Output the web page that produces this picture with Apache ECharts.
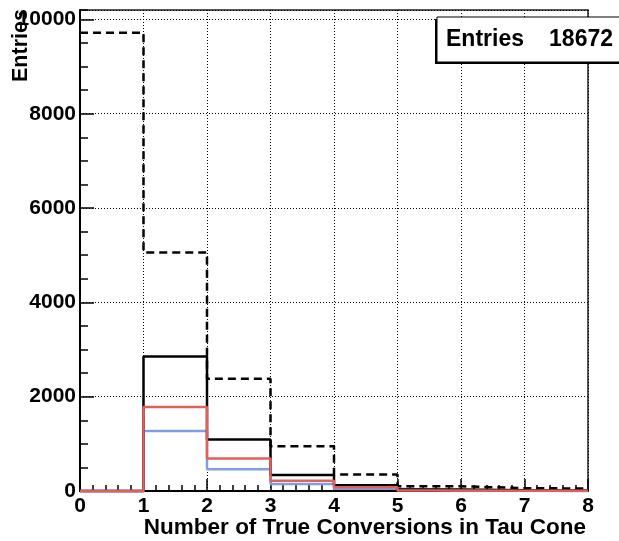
<!DOCTYPE html>
<html>
<head>
<meta charset="utf-8">
<title>Number of True Conversions in Tau Cone</title>
<script src="https://cdn.jsdelivr.net/npm/echarts@6/dist/echarts.min.js"></script>
<style>
  html, body { margin: 0; padding: 0; background: #fff; }
  #chart { width: 619px; height: 541px; }
</style>
</head>
<body>
<div id="chart"></div>
<script>
// Bin edges (lower edge of each unit-wide bin) and contents per histogram
const binEdges = [0, 1, 2, 3, 4, 5, 6, 7];
const xMax = 8;
const allTaus = [9720, 5060, 2380, 950, 350, 100, 60, 52];
const selected = [0, 2850, 1090, 340, 120, 30, 15, 10];
const redHist = [0, 1780, 690, 220, 80, 10, 5, 3];
const blueHist = [0, 1270, 460, 150, 50, 8, 4, 2];
const entries = 18672;
const yTickLabels = ['0', '2000', '4000', '6000', '8000', '10000'];

const FONT = '"Liberation Sans", Arial, Helvetica, sans-serif';

// Turn bin contents into step-line points: one point per lower edge plus the last upper edge
function stepPoints(values) {
  const pts = binEdges.map((e, i) => [e, values[i]]);
  pts.push([xMax, values[values.length - 1]]);
  return pts;
}

function histSeries(name, values, color, width, type, z) {
  return {
    name: name,
    type: 'line',
    step: 'end',
    data: stepPoints(values),
    symbol: 'none',
    clip: false,
    z: z,
    lineStyle: { color: color, width: width, type: type },
    emphasis: { disabled: true },
    silent: true
  };
}

const chart = echarts.init(document.getElementById('chart'), null, { renderer: 'canvas' });

const option = {
  animation: false,
  backgroundColor: '#ffffff',
  grid: {
    left: 80, right: 31, top: 10, bottom: 50,
    show: true, borderColor: '#222', borderWidth: 1.5, backgroundColor: 'transparent'
  },
  xAxis: [{
    type: 'value', min: 0, max: xMax, interval: 1,
    axisLine: { show: true, onZero: false, lineStyle: { color: '#000', width: 2 } },
    axisTick: { show: true, inside: true, length: 12, lineStyle: { color: '#000', width: 1.5 } },
    minorTick: { show: true, splitNumber: 5, length: 6, lineStyle: { color: '#000', width: 1.5 } },
    axisLabel: { show: true, margin: 5, color: '#000', fontFamily: FONT, fontWeight: 'bold', fontSize: 21 },
    splitLine: { show: true, lineStyle: { color: '#000', width: 1, type: [1, 2] } }
  }],
  yAxis: [{
    type: 'value', min: 0, max: 10200, interval: 2000,
    axisLine: { show: true, onZero: false, lineStyle: { color: '#000', width: 2 } },
    axisTick: { show: true, inside: true, length: 14, lineStyle: { color: '#000', width: 1.5 } },
    axisLabel: {
      show: true, margin: 4, color: '#000', fontFamily: FONT, fontWeight: 'bold', fontSize: 21,
      showMaxLabel: false,
      formatter: function (v) {
        const idx = Math.round(v / 2000);
        return (v % 2000 === 0 && yTickLabels[idx] !== undefined) ? yTickLabels[idx] : '';
      }
    },
    splitLine: { show: true, lineStyle: { color: '#000', width: 1, type: [1, 2] } }
  }, {
    // minor ticks every 500 entries
    type: 'value', min: 0, max: 10200, interval: 500, position: 'left',
    axisLine: { show: false },
    axisTick: { show: true, inside: true, length: 8, lineStyle: { color: '#000', width: 1.5 } },
    axisLabel: { show: false },
    splitLine: { show: false }
  }],
  series: [
    histSeries('blue', blueHist, '#7f9fe0', 2.5, 'solid', 3),
    histSeries('all', allTaus, '#000000', 2.5, [8, 5], 4),
    histSeries('selected', selected, '#000000', 2.5, 'solid', 5),
    histSeries('red', redHist, '#e0605a', 2.5, 'solid', 6)
  ],
  graphic: [
    // y-axis title
    {
      type: 'text', x: 10, y: 82, rotation: Math.PI / 2, z: 10,
      style: { text: 'Entries', fill: '#000', font: 'bold 21.5px ' + FONT, textAlign: 'left', textVerticalAlign: 'top' }
    },
    // x-axis title
    {
      type: 'text', x: 586, y: 528, z: 10,
      style: { text: 'Number of True Conversions in Tau Cone', fill: '#000', font: 'bold 22.5px ' + FONT, textAlign: 'right', textVerticalAlign: 'middle' }
    },
    // statistics box with shadow
    {
      type: 'rect', z: 10, shape: { x: 435, y: 19, width: 200, height: 45 },
      style: { fill: '#000' }
    },
    {
      type: 'rect', z: 11, shape: { x: 437, y: 17, width: 200, height: 45 },
      style: { fill: '#fff', stroke: '#000', lineWidth: 1 }
    },
    {
      type: 'text', x: 446, y: 40, z: 12,
      style: { text: 'Entries', fill: '#000', font: 'bold 23px ' + FONT, textAlign: 'left', textVerticalAlign: 'middle' }
    },
    {
      type: 'text', x: 613, y: 40, z: 12,
      style: { text: String(entries), fill: '#000', font: 'bold 23px ' + FONT, textAlign: 'right', textVerticalAlign: 'middle' }
    }
  ]
};

chart.setOption(option);
</script>
</body>
</html>
